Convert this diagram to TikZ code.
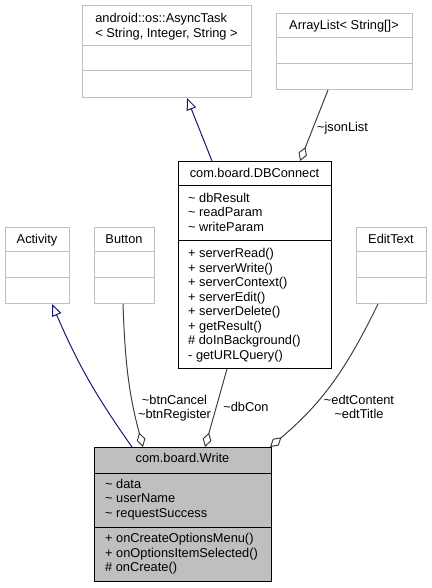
\documentclass[tikz,border=0pt]{standalone}
\usepackage{fontspec}
\setmainfont{Liberation Sans}
\usetikzlibrary{arrows.meta, calc}
\definecolor{EdgeBlue}{RGB}{25,25,112}
\definecolor{EdgeGrey}{RGB}{64,64,64}
\definecolor{BoxGrey}{RGB}{191,191,191}

\begin{document}
\begin{tikzpicture}[x=1pt, y=-1pt, font=\fontsize{12.8}{14.5}\selectfont,
    cls/.style={draw=black, fill=white, line width=1pt, inner sep=0pt, anchor=north west},
    extcls/.style={cls, draw=BoxGrey},
    member/.style={inner sep=0pt, align=left, anchor=base west},
    title/.style={inner sep=0pt, anchor=base},
    inherit/.style={EdgeBlue, line width=1pt, -{Triangle[open, length=12pt, width=10pt]}},
    aggr/.style={EdgeGrey, line width=1pt, -{Diamond[open, length=15pt, width=9pt]}},
    role/.style={inner sep=0pt, align=center, anchor=base}]
    \useasboundingbox (0,0) rectangle (431,588);

    % --- externe Klassen ---
    \node[extcls, minimum width=169pt, minimum height=92pt] (async) at (82,5) {};
    \draw[BoxGrey, line width=1pt] (async.west |- 0,46) -- (async.east |- 0,46)
        (async.west |- 0,71) -- (async.east |- 0,71);
    \node[title, align=left] (asyncT) at (166.5,38) {android::os::AsyncTask\\[1pt]< String, Integer, String >};

    \node[extcls, minimum width=136pt, minimum height=76pt] (arrlist) at (276,13) {};
    \draw[BoxGrey, line width=1pt] (arrlist.west |- 0,38) -- (arrlist.east |- 0,38)
        (arrlist.west |- 0,64) -- (arrlist.east |- 0,64);
    \node[title] (arrlistT) at (344,29.5) {ArrayList< String[]>};

    \node[extcls, minimum width=64pt, minimum height=76pt] (activity) at (5,227) {};
    \draw[BoxGrey, line width=1pt] (activity.west |- 0,251) -- (activity.east |- 0,251)
        (activity.west |- 0,277) -- (activity.east |- 0,277);
    \node[title] (activityT) at (37,243) {Activity};

    \node[extcls, minimum width=60pt, minimum height=76pt] (button) at (94,227) {};
    \draw[BoxGrey, line width=1pt] (button.west |- 0,251) -- (button.east |- 0,251)
        (button.west |- 0,277) -- (button.east |- 0,277);
    \node[title] (buttonT) at (124,243) {Button};

    \node[extcls, minimum width=70pt, minimum height=76pt] (edit) at (356,227) {};
    \draw[BoxGrey, line width=1pt] (edit.west |- 0,251) -- (edit.east |- 0,251)
        (edit.west |- 0,277) -- (edit.east |- 0,277);
    \node[title] (editT) at (391,243) {EditText};

    % --- com.board.DBConnect ---
    \node[cls, minimum width=153pt, minimum height=207pt] (dbconn) at (178,161) {};
    \draw[line width=1pt] (dbconn.west |- 0,185) -- (dbconn.east |- 0,185)
        (dbconn.west |- 0,240) -- (dbconn.east |- 0,240);
    \node[title] (dbconnT) at (254.5,177.5) {com.board.DBConnect};
    \node[member] (dbconnA) at (188,231) {\textasciitilde{} dbResult\\\textasciitilde{} readParam\\\textasciitilde{} writeParam};
    \node[member] (dbconnM) at (188,359.2) {+ serverRead()\\+ serverWrite()\\+ serverContext()\\+ serverEdit()\\+ serverDelete()\\+ getResult()\\\# doInBackground()\\- getURLQuery()};

    % --- com.board.Write ---
    \node[cls, fill=BoxGrey, minimum width=177pt, minimum height=134pt] (write) at (94,447) {};
    \draw[line width=1pt] (write.west |- 0,473) -- (write.east |- 0,473)
        (write.west |- 0,527) -- (write.east |- 0,527);
    \node[title] (writeT) at (182.5,462.7) {com.board.Write};
    \node[member] (writeA) at (105,517.3) {\textasciitilde{} data\\\textasciitilde{} userName\\\textasciitilde{} requestSuccess};
    \node[member] (writeM) at (105,571.7) {+ onCreateOptionsMenu()\\+ onOptionsItemSelected()\\\# onCreate()};

    % --- Beziehungen ---
    \draw[inherit] ($(dbconn.north west)+(34,0)$) -- ($(async.south west)+(105,0)$);
    \draw[aggr] ($(arrlist.south west)+(52,0)$) -- ($(dbconn.north west)+(122,0)$);
    \node[role] (jsonL) at (342.5,131.7) {\textasciitilde jsonList};

    \draw[inherit] ($(write.north west)+(38,0)$) to[bend left=6] ($(activity.south west)+(47,0)$);
    \draw[aggr] ($(button.south west)+(29,0)$) to[out=-88, in=105] ($(write.north west)+(49,0)$);
    \node[role] (btnL) at (174.5,418.7) {\textasciitilde btnCancel\\\textasciitilde btnRegister};
    \draw[aggr] ($(dbconn.south west)+(49,0)$) -- ($(write.north west)+(111,0)$);
    \node[role] (dbconL) at (246,411) {\textasciitilde dbCon};
    \draw[aggr] ($(edit.south west)+(22,0)$) to[out=-116, in=40] ($(write.north west)+(176,0)$);
    \node[role] (edtL) at (359,418.7) {\textasciitilde edtContent\\\textasciitilde edtTitle};
\end{tikzpicture}
\end{document}
